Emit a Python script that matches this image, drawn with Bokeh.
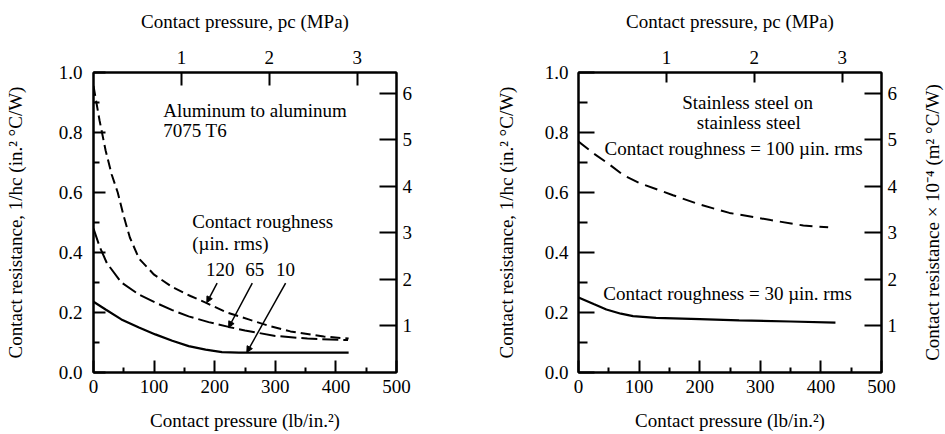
from bokeh.plotting import figure
from bokeh.layouts import row
from bokeh.models import (Range1d, LinearAxis, FixedTicker, PrintfTickFormatter,
                          Label, Arrow, NormalHead)
from bokeh.embed import file_html
from bokeh.resources import INLINE

# ---------------- data ----------------
PSI_PER_MPA = 145.038
SI_PER_IN2 = 6.4516  # (m2 C/W) x 1e-4 per (in2 C/W)

# Aluminum to aluminum 7075 T6
al_p120 = [0, 10, 20, 30, 40, 50, 60, 75, 100, 130, 160, 185, 220, 256, 290, 325, 380, 421]
al_r120 = [0.955, 0.84, 0.74, 0.66, 0.60, 0.52, 0.45, 0.38, 0.326, 0.285, 0.255, 0.233, 0.20, 0.177, 0.155, 0.137, 0.12, 0.113]
al_p65 = [0, 10, 22, 46, 75, 102, 130, 157, 190, 223, 250, 300, 353, 420]
al_r65 = [0.48, 0.42, 0.365, 0.30, 0.26, 0.233, 0.208, 0.187, 0.168, 0.152, 0.14, 0.122, 0.113, 0.108]
al_p10 = [0, 20, 46, 75, 102, 130, 157, 185, 212, 240, 300, 421]
al_r10 = [0.236, 0.21, 0.177, 0.15, 0.127, 0.106, 0.088, 0.076, 0.068, 0.066, 0.066, 0.066]

al_tags = ["120", "65", "10"]
al_tag_x = [209, 266, 317]
al_tag_y = [0.343, 0.343, 0.343]
al_lead_x0 = [204, 262, 317]
al_lead_y0 = [0.298, 0.298, 0.298]
al_lead_x1 = [187, 223, 253]
al_lead_y1 = [0.233, 0.150, 0.067]

# Stainless steel on stainless steel
ss_p100 = [0, 25, 50, 74, 100, 156, 200, 249, 317, 371, 412]
ss_r100 = [0.77, 0.73, 0.695, 0.658, 0.632, 0.591, 0.56, 0.532, 0.508, 0.49, 0.484]
ss_p30 = [0, 25, 46, 70, 90, 128, 200, 265, 350, 424]
ss_r30 = [0.25, 0.228, 0.21, 0.196, 0.188, 0.182, 0.178, 0.174, 0.17, 0.166]

x_major = [0, 100, 200, 300, 400, 500]
x_minor = [50, 150, 250, 350, 450]
y_major = [0.0, 0.2, 0.4, 0.6, 0.8, 1.0]
y_minor = [0.1, 0.3, 0.5, 0.7, 0.9]
mpa_ticks = [1, 2, 3]
si_ticks = [1, 2, 3, 4, 5, 6]

FONT = "Liberation Serif"
FS = "19px"
Y_TITLE = "Contact resistance, 1/hc (in.² °C/W)"
X_TITLE = "Contact pressure (lb/in.²)"
TOP_TITLE = "Contact pressure, pc (MPa)"
RIGHT_TITLE = "Contact resistance × 10⁻⁴ (m² °C/W)"

H = 433
TOP = 72
BOTTOM = H - 72 - 301


def style_axis(ax, tick_in, minor_in=None, label_standoff=8, title_standoff=10):
    ax.axis_line_color = "black"
    ax.axis_line_width = 2
    ax.major_tick_line_color = "black"
    ax.major_tick_line_width = 2
    ax.major_tick_in = tick_in
    ax.major_tick_out = 0
    if minor_in is None:
        ax.minor_tick_line_color = None
    else:
        ax.minor_tick_line_color = "black"
        ax.minor_tick_line_width = 2
        ax.minor_tick_in = minor_in
        ax.minor_tick_out = 0
    ax.major_label_text_font = FONT
    ax.major_label_text_font_size = FS
    ax.major_label_text_color = "black"
    ax.major_label_standoff = label_standoff
    ax.axis_label_text_font = FONT
    ax.axis_label_text_font_size = FS
    ax.axis_label_text_font_style = "normal"
    ax.axis_label_text_color = "black"
    ax.axis_label_standoff = title_standoff


def make_fig(width, bl, br, ytick, yminor, ylabel_so, ytitle_so, r_so, top_tick):
    p = figure(width=width, height=H, output_backend="svg", toolbar_location=None,
               x_range=Range1d(0, 500), y_range=Range1d(0, 1.0),
               min_border_left=bl, min_border_right=br, min_border_top=TOP,
               min_border_bottom=BOTTOM)
    p.extra_x_ranges = {"mpa": Range1d(0, 500 / PSI_PER_MPA)}
    p.extra_y_ranges = {"si": Range1d(0, SI_PER_IN2)}
    p.grid.visible = False
    p.background_fill_color = "white"
    p.border_fill_color = "white"
    p.outline_line_color = "black"
    p.outline_line_width = 2

    xa = p.xaxis[0]
    xa.ticker = FixedTicker(ticks=x_major, minor_ticks=x_minor)
    xa.axis_label = X_TITLE
    style_axis(xa, 12, 5, label_standoff=7, title_standoff=14)

    ya = p.yaxis[0]
    ya.ticker = FixedTicker(ticks=y_major, minor_ticks=y_minor)
    ya.formatter = PrintfTickFormatter(format="%.1f")
    ya.axis_label = Y_TITLE
    style_axis(ya, ytick, yminor, label_standoff=ylabel_so, title_standoff=ytitle_so)

    top = LinearAxis(x_range_name="mpa", ticker=FixedTicker(ticks=mpa_ticks),
                     formatter=PrintfTickFormatter(format="%d"), axis_label=TOP_TITLE)
    style_axis(top, top_tick, None, label_standoff=9, title_standoff=16)
    p.add_layout(top, "above")

    right = LinearAxis(y_range_name="si", ticker=FixedTicker(ticks=si_ticks),
                       formatter=PrintfTickFormatter(format="%d"))
    style_axis(right, 17, None, label_standoff=r_so)
    p.add_layout(right, "right")
    return p


def add_text(p, x, y, text, align="left"):
    p.add_layout(Label(x=x, y=y, text=text, text_font=FONT, text_font_size=FS,
                       text_color="black", text_align=align, text_baseline="middle"))


# ---------------- left: aluminum ----------------
p1 = make_fig(480, 93, 84, 12, 6, 11, 30, 6, 13)
p1.line(al_p120, al_r120, line_color="black", line_width=2, line_dash="10 5")
p1.line(al_p65, al_r65, line_color="black", line_width=2, line_dash="16 5")
p1.line(al_p10, al_r10, line_color="black", line_width=2.2)
add_text(p1, 115, 0.874, "Aluminum to aluminum")
add_text(p1, 115, 0.808, "7075 T6")
add_text(p1, 163, 0.503, "Contact roughness")
add_text(p1, 163, 0.431, "(µin. rms)")
for t, tx, ty in zip(al_tags, al_tag_x, al_tag_y):
    add_text(p1, tx, ty, t, align="center")
for x0, y0, x1, y1 in zip(al_lead_x0, al_lead_y0, al_lead_x1, al_lead_y1):
    p1.add_layout(Arrow(x_start=x0, y_start=y0, x_end=x1, y_end=y1, line_width=1.5,
                        line_color="black",
                        end=NormalHead(size=6, fill_color="black", line_color="black")))

# ---------------- right: stainless ----------------
p2 = make_fig(421, 98, 20, 16, 9, 10, 25, 6, 10)
p2.line(ss_p100, ss_r100, line_color="black", line_width=2, line_dash="13 7")
p2.line(ss_p30, ss_r30, line_color="black", line_width=2.2)
add_text(p2, 279, 0.900, "Stainless steel on", align="center")
add_text(p2, 281, 0.834, "stainless steel", align="center")
add_text(p2, 256, 0.746, "Contact roughness = 100 µin. rms", align="center")
add_text(p2, 246, 0.265, "Contact roughness = 30 µin. rms", align="center")

# ---------------- strip carrying the SI axis title (reads bottom to top) ----------------
p3 = figure(width=43, height=H, output_backend="svg", toolbar_location=None,
            x_range=Range1d(0, 1), y_range=Range1d(0, 1),
            min_border_left=41, min_border_right=0, min_border_top=TOP,
            min_border_bottom=BOTTOM)
p3.grid.visible = False
p3.outline_line_color = None
p3.background_fill_color = "white"
p3.border_fill_color = "white"
p3.xaxis.visible = False
ya3 = p3.yaxis[0]
ya3.ticker = FixedTicker(ticks=[])
ya3.axis_line_color = None
ya3.major_tick_line_color = None
ya3.minor_tick_line_color = None
ya3.major_label_standoff = 0
ya3.axis_label = RIGHT_TITLE
ya3.axis_label_text_font = FONT
ya3.axis_label_text_font_size = FS
ya3.axis_label_text_font_style = "normal"
ya3.axis_label_text_color = "black"
ya3.axis_label_standoff = 0

layout = row(p1, p2, p3)
open("out.html", "w").write(file_html(layout, INLINE))
